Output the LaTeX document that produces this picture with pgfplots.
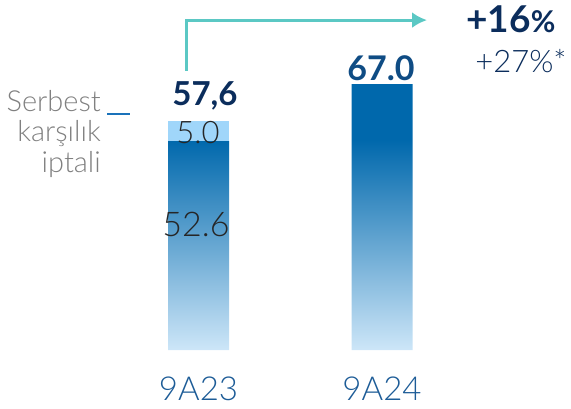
\documentclass[border=0pt]{standalone}
\usepackage{pgfplots}
\pgfplotsset{compat=1.18}
\usetikzlibrary{arrows.meta}
\usepackage{fontspec}
\setmainfont{Lato}
\newfontfamily\light{Lato Light}

\definecolor{bardark}{HTML}{0068AC}
\definecolor{barlight}{HTML}{CDE6F8}
\definecolor{barseg}{HTML}{A0D6FA}
\definecolor{navy}{HTML}{0B2D5C}
\definecolor{valblue}{HTML}{0F4C84}
\definecolor{ticklab}{HTML}{1D5C97}
\definecolor{notegray}{HTML}{808080}
\definecolor{dashblue}{HTML}{1A72BA}
\definecolor{arrowteal}{HTML}{5BC8C4}

\pgfdeclareverticalshading{barshade}{100bp}{color(0bp)=(barlight); color(25bp)=(barlight); color(64.5bp)=(bardark); color(100bp)=(bardark)}

\begin{document}
\begin{tikzpicture}
\begin{axis}[
    scale only axis,
    width=571pt, height=350pt,
    xmin=0, xmax=571, ymin=0, ymax=88.16,
    ybar stacked, bar width=61,
    axis line style={draw=none},
    ytick=\empty,
    xtick={198.5,382}, xticklabels={9A23,9A24},
    major tick length=0pt,
    xticklabel style={anchor=base, yshift=-50pt, text=ticklab,
        font=\fontsize{33}{36}\selectfont\light},
    clip=false,
]
% 9A23 = 52.6 + 5.0 (serbest karsilik iptali), 9A24 = 67.0
\addplot[draw=none, shading=barshade] coordinates {(198.5,52.6) (382,67.0)};
\addplot[draw=none, fill=barseg] coordinates {(198.5,5.0) (382,0)};

\coordinate (top1) at (axis cs:205,61.5);
\coordinate (seg1) at (axis cs:198,52.1);
\coordinate (base1) at (axis cs:196,28.5);
\coordinate (top2) at (axis cs:381,68.0);

% note on the left
\node[anchor=base east, inner sep=0pt, text=notegray, font=\fontsize{29}{32}\selectfont\light] at (axis cs:101,60.2) {Serbest};
\node[anchor=base east, inner sep=0pt, text=notegray, font=\fontsize{29}{32}\selectfont\light] at (axis cs:101,52.4) {karşılık};
\node[anchor=base east, inner sep=0pt, text=notegray, font=\fontsize{29}{32}\selectfont\light] at (axis cs:101,44.8) {iptali};
\draw[dashblue, line width=2.5pt] (axis cs:107,59.4) -- (axis cs:130,59.4);

% growth arrow
\draw[arrowteal, line width=3pt, -{Latex[length=15pt,width=16pt]}]
    (axis cs:186,70.3) -- (axis cs:186,83.1) -- (axis cs:427,83.1);
\node[anchor=base, text=navy, font=\fontsize{37}{40}\selectfont\bfseries] at (axis cs:511,80.1) {+16{\fontsize{30}{33}\selectfont\%}};
\node[anchor=base, text=navy, font=\fontsize{31}{34}\selectfont\light] at (axis cs:521,70.0) {+27\%*};
\end{axis}

% value labels, drawn over the bars
\node[anchor=base, text=navy, font=\fontsize{33}{36}\selectfont\bfseries] at (top1) {57,6};
\node[anchor=base, text=black!85, font=\fontsize{31}{34}\selectfont\light] at (seg1) {5.0};
\node[anchor=base, text=black!85, font=\fontsize{34}{37}\selectfont\light] at (base1) {52.6};
\node[anchor=base, text=valblue, font=\fontsize{34}{37}\selectfont\bfseries] at (top2) {67.0};

\pgfresetboundingbox
\path[use as bounding box] (current axis.south west) ++(0,-58pt) rectangle ++(571pt,408pt);
\end{tikzpicture}
\end{document}
